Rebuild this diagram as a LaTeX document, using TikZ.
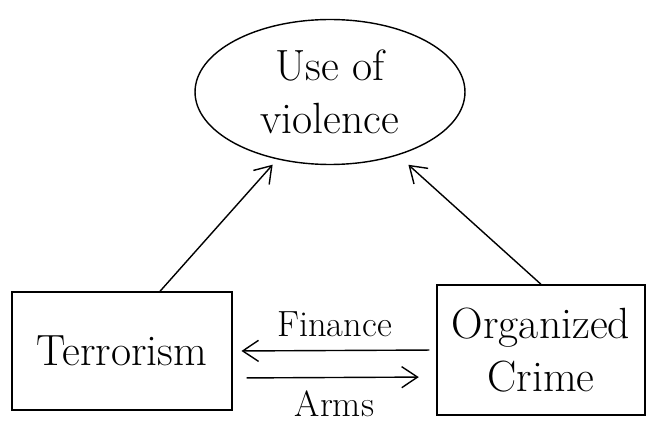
\documentclass[tikz,border=0pt]{standalone}
\usetikzlibrary{shapes.geometric,arrows.meta}
\begin{document}
\begin{tikzpicture}[x=0.02cm, y=-0.02cm, every node/.style={align=center}]
                    \useasboundingbox (0,0) rectangle (671,435);
                    \tikzset{box/.style={draw, thick, font=\Huge},
                             arr/.style={thick, -{Straight Barb[length=9pt,width=12pt]}}}
                    
                    \node[draw, thick, ellipse, minimum width=5.4cm, minimum height=2.9cm, font=\Huge, align=center] (violence) at (330,92) {Use of\\violence};
                    \node[box, minimum width=4.4cm, minimum height=2.36cm] (terror) at (122,351) {Terrorism};
                    \node[box, minimum width=4.16cm, minimum height=2.6cm] (crime) at (541,350) {Organized\\Crime};
                    
                    \draw[arr, shorten >=4pt] ([xshift=0.76cm]terror.north) -- (violence.232);
                    \draw[arr, shorten >=8pt] (crime.north) -- (violence.317);
                    
                    \draw[arr, shorten <=4pt, shorten >=5pt] (crime.west) -- node[above=4pt, font=\huge] (finance) {Finance} (terror.east);
                    \draw[arr, shorten <=8pt, shorten >=10pt] ([yshift=-0.54cm]terror.east) -- node[below=4pt, font=\huge] (arms) {Arms} ([yshift=-0.54cm]crime.west);
                \end{tikzpicture}
\end{document}
